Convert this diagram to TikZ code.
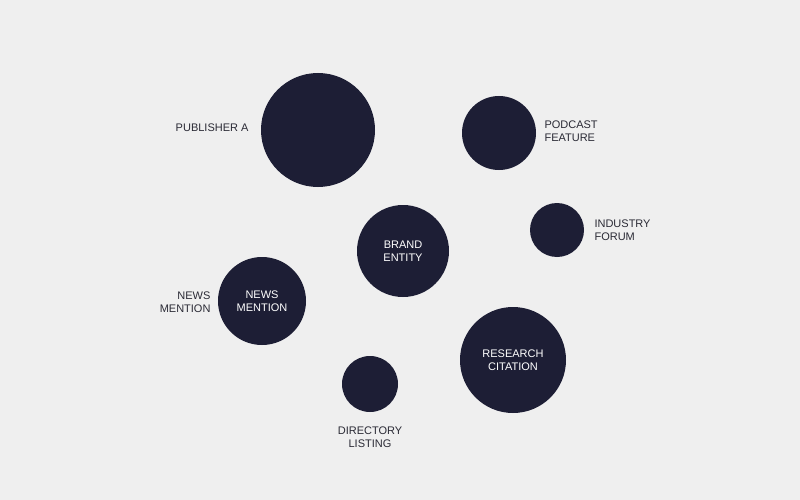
\documentclass[tikz,border=0pt]{standalone}
\usepackage{fontspec}
\setmainfont{Liberation Sans}
\usetikzlibrary{backgrounds}
\definecolor{bg}{HTML}{EFEFEF}
\definecolor{navy}{HTML}{1D1E35}
\definecolor{org}{HTML}{E8683A}
\definecolor{txt}{HTML}{2A2A35}
\begin{document}
\begin{tikzpicture}[x={(1pt,0)},y={(0,-1pt)},
  hub/.style={circle,fill=navy,inner sep=0pt,minimum size=#1,text=white,font=\fontsize{11}{12.5}\selectfont,align=center},
  lbl/.style={text=txt,font=\fontsize{11}{12.5}\selectfont},
  link/.style={draw=org,line width=3.5pt}]
\fill[bg] (0,0) rectangle (800,500);
\useasboundingbox (0,0) rectangle (800,500);
\node[hub=92pt] (brand) at (403,251) {BRAND\\ENTITY};
\node[hub=114pt] (pub) at (318,130) {};
\node[hub=74pt] (pod) at (499,133) {};
\node[hub=54pt] (ind) at (557,230) {};
\node[hub=106pt] (res) at (513,360) {RESEARCH\\CITATION};
\node[hub=56pt] (dir) at (370,384) {};
\node[hub=88pt] (news) at (262,301) {NEWS\\MENTION};
\begin{pgfonlayer}{background}
\foreach \n in {pub,pod,ind,res,dir,news} \draw[link] (brand.center) -- (\n.center);
\end{pgfonlayer}
\node[lbl,anchor=east] (lpub) at (252,128) {PUBLISHER A};
\node[lbl,anchor=west,align=left] (lpod) at (541,131) {PODCAST\\FEATURE};
\node[lbl,anchor=west,align=left] (lind) at (591,230) {INDUSTRY\\FORUM};
\node[lbl,anchor=east,align=right] (lnews) at (214,302) {NEWS\\MENTION};
\node[lbl,align=center] (ldir) at (370,437) {DIRECTORY\\LISTING};
\end{tikzpicture}
\end{document}
